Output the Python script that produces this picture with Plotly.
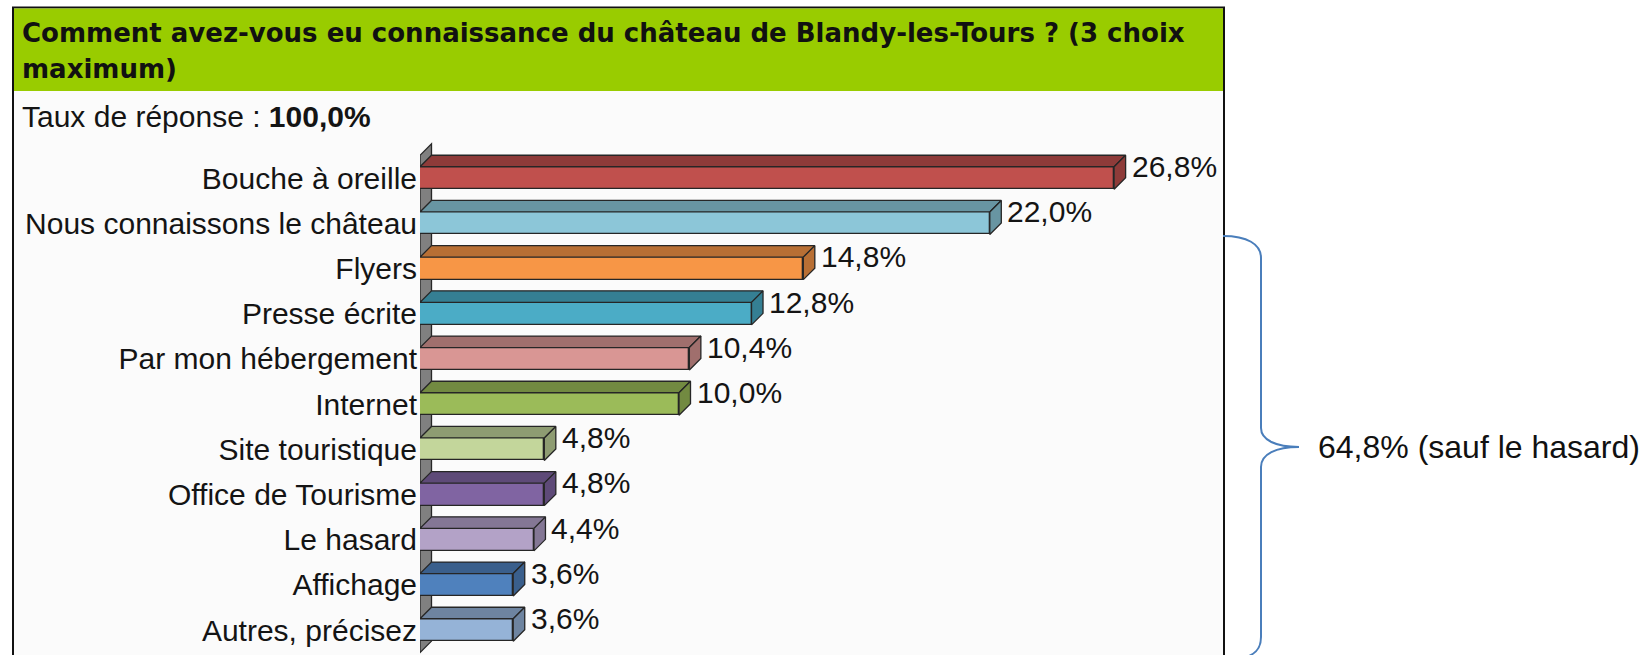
import plotly.graph_objects as go

# ---------------- data ----------------
categories = [
    "Bouche à oreille", "Nous connaissons le château", "Flyers", "Presse écrite",
    "Par mon hébergement", "Internet", "Site touristique", "Office de Tourisme",
    "Le hasard", "Affichage", "Autres, précisez",
]
values = [26.8, 22.0, 14.8, 12.8, 10.4, 10.0, 4.8, 4.8, 4.4, 3.6, 3.6]
front_colors = ["#C0504D", "#8CC6D8", "#F79646", "#4BACC6", "#D99694", "#9BBB59",
                "#C3D69B", "#8064A2", "#B3A2C7", "#4F81BD", "#95B3D7"]
top_colors = ["#8E3B39", "#6895A2", "#B86F34", "#357F93", "#A06F6D", "#728A41",
              "#8E9C72", "#5E4A78", "#847795", "#3A5F8C", "#6E84A0"]
title_line1 = "Comment avez-vous eu connaissance du château de Blandy-les-Tours ? (3 choix"
title_line2 = "maximum)"
rate_label = "Taux de réponse : "
rate_value = "100,0%"
bracket_text = "64,8% (sauf le hasard)"

# ---------------- geometry ----------------
W, H = 1646, 655
X0_PX = 420.0          # pixel of value 0
PX_PER_UNIT = 25.9     # pixels per percentage point
Y0_PX = 178.0          # pixel centre of first category
ROW_PX = 45.2          # pixels per category
FRONT_PX = 22.5
DEPTH_PX = 11.5

x_max = (W - X0_PX) / PX_PER_UNIT
y_top = -Y0_PX / ROW_PX
y_bot = (H - Y0_PX) / ROW_PX
dx = DEPTH_PX / PX_PER_UNIT
dy = DEPTH_PX / ROW_PX
hw = FRONT_PX / ROW_PX / 2

def px(x):
    return x / W

def py(y):
    return 1 - y / H

FONT = "Liberation Sans, Arial, sans-serif"
TXT = "#141414"
EDGE = "#262626"

fig = go.Figure()

idx = list(range(len(categories)))

# top and side faces (3D effect)
for i, v in enumerate(values):
    yt = i - hw
    yb = i + hw
    fig.add_trace(go.Scatter(
        x=[0, v, v + dx, dx, 0], y=[yt, yt, yt - dy, yt - dy, yt],
        mode="lines", fill="toself", fillcolor=top_colors[i],
        line=dict(color=EDGE, width=1.3), hoverinfo="skip", showlegend=False))
    fig.add_trace(go.Scatter(
        x=[v, v + dx, v + dx, v, v], y=[yt, yt - dy, yb - dy, yb, yt],
        mode="lines", fill="toself", fillcolor=top_colors[i],
        line=dict(color=EDGE, width=1.3), hoverinfo="skip", showlegend=False))

# front faces
fig.add_trace(go.Bar(
    x=values, y=idx, orientation="h", width=2 * hw,
    marker=dict(color=front_colors, line=dict(color=EDGE, width=1.3)),
    hoverinfo="skip", showlegend=False))

shapes = []
# panel
shapes.append(dict(type="rect", xref="paper", yref="paper",
                   x0=px(13), x1=px(1224), y0=py(700), y1=py(7.5),
                   fillcolor="#FBFBFB", line=dict(color="#111111", width=2), layer="below"))
# header
shapes.append(dict(type="rect", xref="paper", yref="paper",
                   x0=px(14), x1=px(1223), y0=py(91), y1=py(8.5),
                   fillcolor="#99CC00", line=dict(width=0), layer="below"))
# wall
n = len(categories)
wall_path = (f"M 0,{-0.5} L {dx},{-0.5 - dy} L {dx},{n - 0.5 - dy} "
             f"L 0,{n - 0.5} Z")
shapes.append(dict(type="path", xref="x", yref="y", path=wall_path,
                   fillcolor="#808080", line=dict(color=EDGE, width=1.3), layer="below"))

# bracket
def P(x, y):
    return f"{px(x):.5f},{py(y):.5f}"

bracket = (f"M {P(1223,236)} C {P(1247,236)} {P(1261,244)} {P(1261,258)} "
           f"L {P(1261,428)} C {P(1261,440)} {P(1276,447)} {P(1299,447)} "
           f"C {P(1276,447)} {P(1261,454)} {P(1261,467)} "
           f"L {P(1261,637)} C {P(1261,649)} {P(1255,655)} {P(1243,658)}")
shapes.append(dict(type="path", xref="paper", yref="paper", path=bracket,
                   line=dict(color="#4A7EBB", width=2)))

annotations = []
# value labels
for i, v in enumerate(values):
    annotations.append(dict(
        x=v + dx, y=i - dy, xref="x", yref="y", xanchor="left", yanchor="middle",
        xshift=4, showarrow=False, text=f"{v:.1f}".replace(".", ",") + "%",
        font=dict(family=FONT, size=30, color=TXT)))

# title
annotations.append(dict(x=px(20), y=py(33), xref="paper", yref="paper",
                        xanchor="left", yanchor="middle", showarrow=False,
                        text=f"<b>{title_line1}</b>",
                        font=dict(family="DejaVu Sans, sans-serif", size=26, color="#111111")))
annotations.append(dict(x=px(20), y=py(69), xref="paper", yref="paper",
                        xanchor="left", yanchor="middle", showarrow=False,
                        text=f"<b>{title_line2}</b>",
                        font=dict(family="DejaVu Sans, sans-serif", size=26, color="#111111")))
annotations.append(dict(x=px(20), y=py(116), xref="paper", yref="paper",
                        xanchor="left", yanchor="middle", showarrow=False,
                        text=f"{rate_label}<b>{rate_value}</b>",
                        font=dict(family=FONT, size=30, color=TXT)))
annotations.append(dict(x=px(1316), y=py(447), xref="paper", yref="paper",
                        xanchor="left", yanchor="middle", showarrow=False,
                        text=bracket_text,
                        font=dict(family=FONT, size=32, color="#111111")))

fig.update_layout(
    width=W, height=H,
    margin=dict(l=0, r=0, t=0, b=0),
    paper_bgcolor="white", plot_bgcolor="rgba(0,0,0,0)",
    shapes=shapes, annotations=annotations,
    bargap=0,
    xaxis=dict(domain=[X0_PX / W, 1], range=[0, x_max], visible=False,
               showgrid=False, zeroline=False),
    yaxis=dict(domain=[0, 1], range=[y_bot, y_top], tickmode="array",
               tickvals=idx, ticktext=categories, ticks="", showgrid=False,
               zeroline=False, showline=False, ticklabelstandoff=2,
               tickfont=dict(family=FONT, size=30, color=TXT)),
)

fig.write_html(
    "out.html",
    config={"displayModeBar": False},
    post_script="document.body.style.margin='0';document.body.style.padding='0';",
)
